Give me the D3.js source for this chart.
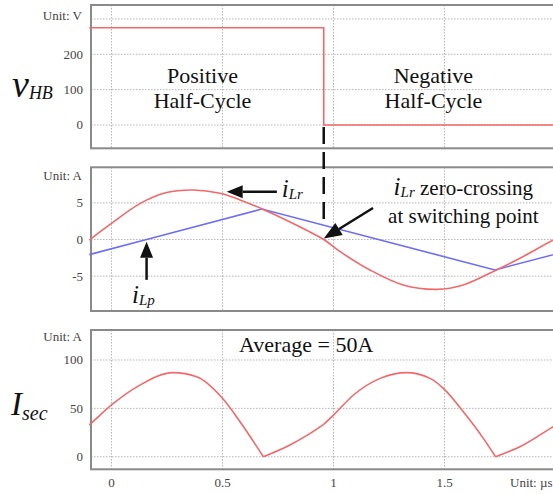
<!DOCTYPE html>
<html>
<head>
<meta charset="utf-8">
<script src="https://cdn.jsdelivr.net/npm/d3@7"></script>
<style>
  body { margin: 0; background: #fff; }
  text { font-family: "Liberation Serif", "Times New Roman", serif; }
</style>
</head>
<body>
<div id="chart"></div>
<script>
// time axis, unit: µs
const timeTicks = [0, 0.5, 1, 1.5];
const switchT = 0.956;

// half-bridge voltage v_HB (V)
const vhbTime = [-0.1, 0.956, 2.1];
const vhbVolts = [275, 0, 0];
const vhbTicks = [0, 100, 200];
const vhbGrid = [0, 100, 200, 300];

// resonant current i_Lr (A)
const iLrTime = [-0.1, -0.09, 0, 0.128, 0.248, 0.368, 0.489, 0.579, 0.684, 0.804, 0.956, 1.03, 1.164, 1.314, 1.465, 1.585, 1.727, 1.84, 1.99, 2.05];
const iLrAmps = [-0.1, 0.15, 2.2, 4.9, 6.4, 6.75, 6.3, 5.4, 4.1, 2.4, 0, -1.66, -4.15, -6.2, -6.8, -6.2, -4.25, -2.56, -0.07, 0.8];

// magnetizing current i_Lp (A)
const iLpTime = [-0.1, 0.158, 0.677, 1.727, 2.05];
const iLpAmps = [-2.06, 0, 4.15, -4.15, -1.6];
const iTicks = [-5, 0, 5];

// secondary current I_sec (A)
const isecTime = [-0.1, -0.09, 0, 0.128, 0.278, 0.383, 0.5, 0.579, 0.684, 0.804, 0.88, 0.956, 1.0, 1.09, 1.21, 1.33, 1.435, 1.495, 1.585, 1.675, 1.73, 1.84, 1.99, 2.05];
const isecAmps = [33, 35, 53.5, 74, 86.9, 82.7, 60.4, 36.2, 0, 12.1, 22, 33.5, 43, 63.8, 81, 86.9, 81, 70.7, 46.5, 19, 0, 10.3, 31, 39];
const isecKinks = [0.684, 0.956, 1.73];
const isecTicks = [0, 50, 100];

const width = 553, height = 494;
const frameLeft = 91;

const svg = d3.select("#chart").append("svg")
  .attr("width", width)
  .attr("height", height);

const x = d3.scaleLinear().domain([0, 1]).range([111.5, 333.5]);
const xEnd = 2.2;

const panels = [
  { y: d3.scaleLinear().domain([-66, 339.5]).range([148.3, 5]), grid: vhbGrid, ticks: vhbTicks, unit: "Unit: V", unitY: 20 },
  { y: d3.scaleLinear().domain([-9.75, 9.85]).range([311, 167.3]), grid: iTicks, ticks: iTicks, unit: "Unit: A", unitY: 180 },
  { y: d3.scaleLinear().domain([-13, 131]).range([469.3, 330]), grid: isecTicks, ticks: isecTicks, unit: "Unit: A", unitY: 341 }
];
const [yV, yI, yS] = panels.map(p => p.y);

panels.forEach(p => {
  const g = svg.append("g");
  const [bot, top] = p.y.range();

  // dotted grid
  g.selectAll(".hg").data(p.grid).join("line")
    .attr("x1", frameLeft).attr("x2", width)
    .attr("y1", d => p.y(d)).attr("y2", d => p.y(d))
    .attr("stroke", "#b5b5b5").attr("stroke-dasharray", "1.5,1.5");
  g.selectAll(".vg").data(timeTicks).join("line")
    .attr("x1", d => x(d)).attr("x2", d => x(d))
    .attr("y1", top).attr("y2", bot)
    .attr("stroke", "#b5b5b5").attr("stroke-dasharray", "1.5,1.5");

  // frame
  g.append("rect")
    .attr("x", frameLeft).attr("y", top)
    .attr("width", x(xEnd) - frameLeft).attr("height", bot - top)
    .attr("fill", "none").attr("stroke", "#8a8a8a").attr("stroke-width", 2);

  // tick labels
  g.selectAll(".tl").data(p.ticks).join("text")
    .attr("x", 83).attr("y", d => p.y(d) + 4.5)
    .attr("text-anchor", "end")
    .attr("font-size", 13).attr("fill", "#444")
    .text(d => d);
  g.append("text")
    .attr("x", 82).attr("y", p.unitY)
    .attr("text-anchor", "end")
    .attr("font-size", 13).attr("fill", "#444")
    .text(p.unit);
});

// x tick labels
svg.selectAll(".xt").data(timeTicks).join("text")
  .attr("x", d => x(d)).attr("y", 487)
  .attr("text-anchor", "middle")
  .attr("font-size", 13).attr("fill", "#444")
  .text(d => d);
svg.append("text")
  .attr("x", 510).attr("y", 487)
  .attr("font-size", 13).attr("fill", "#444")
  .text("Unit: µs");

const red = "#f26868", blue = "#6e6ef5";

// v_HB
svg.append("path")
  .datum(d3.zip(vhbTime, vhbVolts))
  .attr("d", d3.line().x(d => x(d[0])).y(d => yV(d[1])).curve(d3.curveStepAfter))
  .attr("fill", "none").attr("stroke", red).attr("stroke-width", 1.6);

// i_Lp
svg.append("path")
  .datum(d3.zip(iLpTime, iLpAmps))
  .attr("d", d3.line().x(d => x(d[0])).y(d => yI(d[1])))
  .attr("fill", "none").attr("stroke", blue).attr("stroke-width", 1.6);

// i_Lr
svg.append("path")
  .datum(d3.zip(iLrTime, iLrAmps))
  .attr("d", d3.line().x(d => x(d[0])).y(d => yI(d[1])).curve(d3.curveCatmullRom))
  .attr("fill", "none").attr("stroke", red).attr("stroke-width", 1.6);

// I_sec, drawn piecewise so the kinks stay sharp
const isecPts = d3.zip(isecTime, isecAmps);
const cuts = [isecTime[0], ...isecKinks, isecTime[isecTime.length - 1]];
const pieces = d3.pairs(cuts).map(([a, b]) => isecPts.filter(d => d[0] >= a && d[0] <= b));
svg.selectAll(".isec").data(pieces).join("path")
  .attr("d", d3.line().x(d => x(d[0])).y(d => yS(d[1])).curve(d3.curveMonotoneX))
  .attr("fill", "none").attr("stroke", red).attr("stroke-width", 1.6);

// switching instant marker
svg.append("line")
  .attr("x1", x(switchT)).attr("x2", x(switchT))
  .attr("y1", yV(0) + 2).attr("y2", yI(2.0))
  .attr("stroke", "#111").attr("stroke-width", 2.5)
  .attr("stroke-dasharray", "17,8");

// arrows
function arrow(t0, v0, t1, v1, len, half) {
  const x0 = x(t0), y0 = yI(v0), x1 = x(t1), y1 = yI(v1);
  const a = Math.atan2(y1 - y0, x1 - x0);
  const bx = x1 - len * Math.cos(a), by = y1 - len * Math.sin(a);
  svg.append("line")
    .attr("x1", x0).attr("y1", y0).attr("x2", bx).attr("y2", by)
    .attr("stroke", "#111").attr("stroke-width", 2.5);
  svg.append("path")
    .attr("d", `M${x1},${y1}L${bx + half * Math.sin(a)},${by - half * Math.cos(a)}L${bx - half * Math.sin(a)},${by + half * Math.cos(a)}Z`)
    .attr("fill", "#111");
}
arrow(0.745, 6.5, 0.519, 6.5, 16, 6.5);
arrow(0.158, -5.5, 0.158, -0.3, 16, 6.5);
arrow(1.178, 4.3, switchT, 0.15, 18, 7);

// panel texts
function label(px, py, parts, anchor) {
  const t = svg.append("text").attr("x", px).attr("y", py)
    .attr("text-anchor", anchor || "start").attr("fill", "#111");
  parts.forEach(([s, size, italic, dy]) => {
    t.append("tspan")
      .attr("font-size", size)
      .attr("font-style", italic ? "italic" : "normal")
      .attr("dy", dy || 0)
      .text(s);
  });
  return t;
}

label(x(0.41), yV(118), [["Positive", 22]], "middle");
label(x(0.41), yV(47), [["Half-Cycle", 22]], "middle");
label(x(1.45), yV(118), [["Negative", 22]], "middle");
label(x(1.45), yV(47), [["Half-Cycle", 22]], "middle");

label(12, 97, [["v", 38, true], ["HB", 18, true, 2]]);
label(11, 415, [["I", 33, true], ["sec", 20, true, 5]]);

label(x(0.767), yI(5.83), [["i", 25, true], ["Lr", 15, true, 2]]);
label(x(0.092), yI(-8.65), [["i", 25, true], ["Lp", 15, true, 2]]);
label(x(1.585), yI(6.06), [["i", 25, true], ["Lr", 15, true, 2], [" zero-crossing", 21, false, -2]], "middle");
label(x(1.585), yI(2.25), [["at switching point", 21]], "middle");

label(x(0.877), yS(108), [["Average = 50A", 22]], "middle");
</script>
</body>
</html>
